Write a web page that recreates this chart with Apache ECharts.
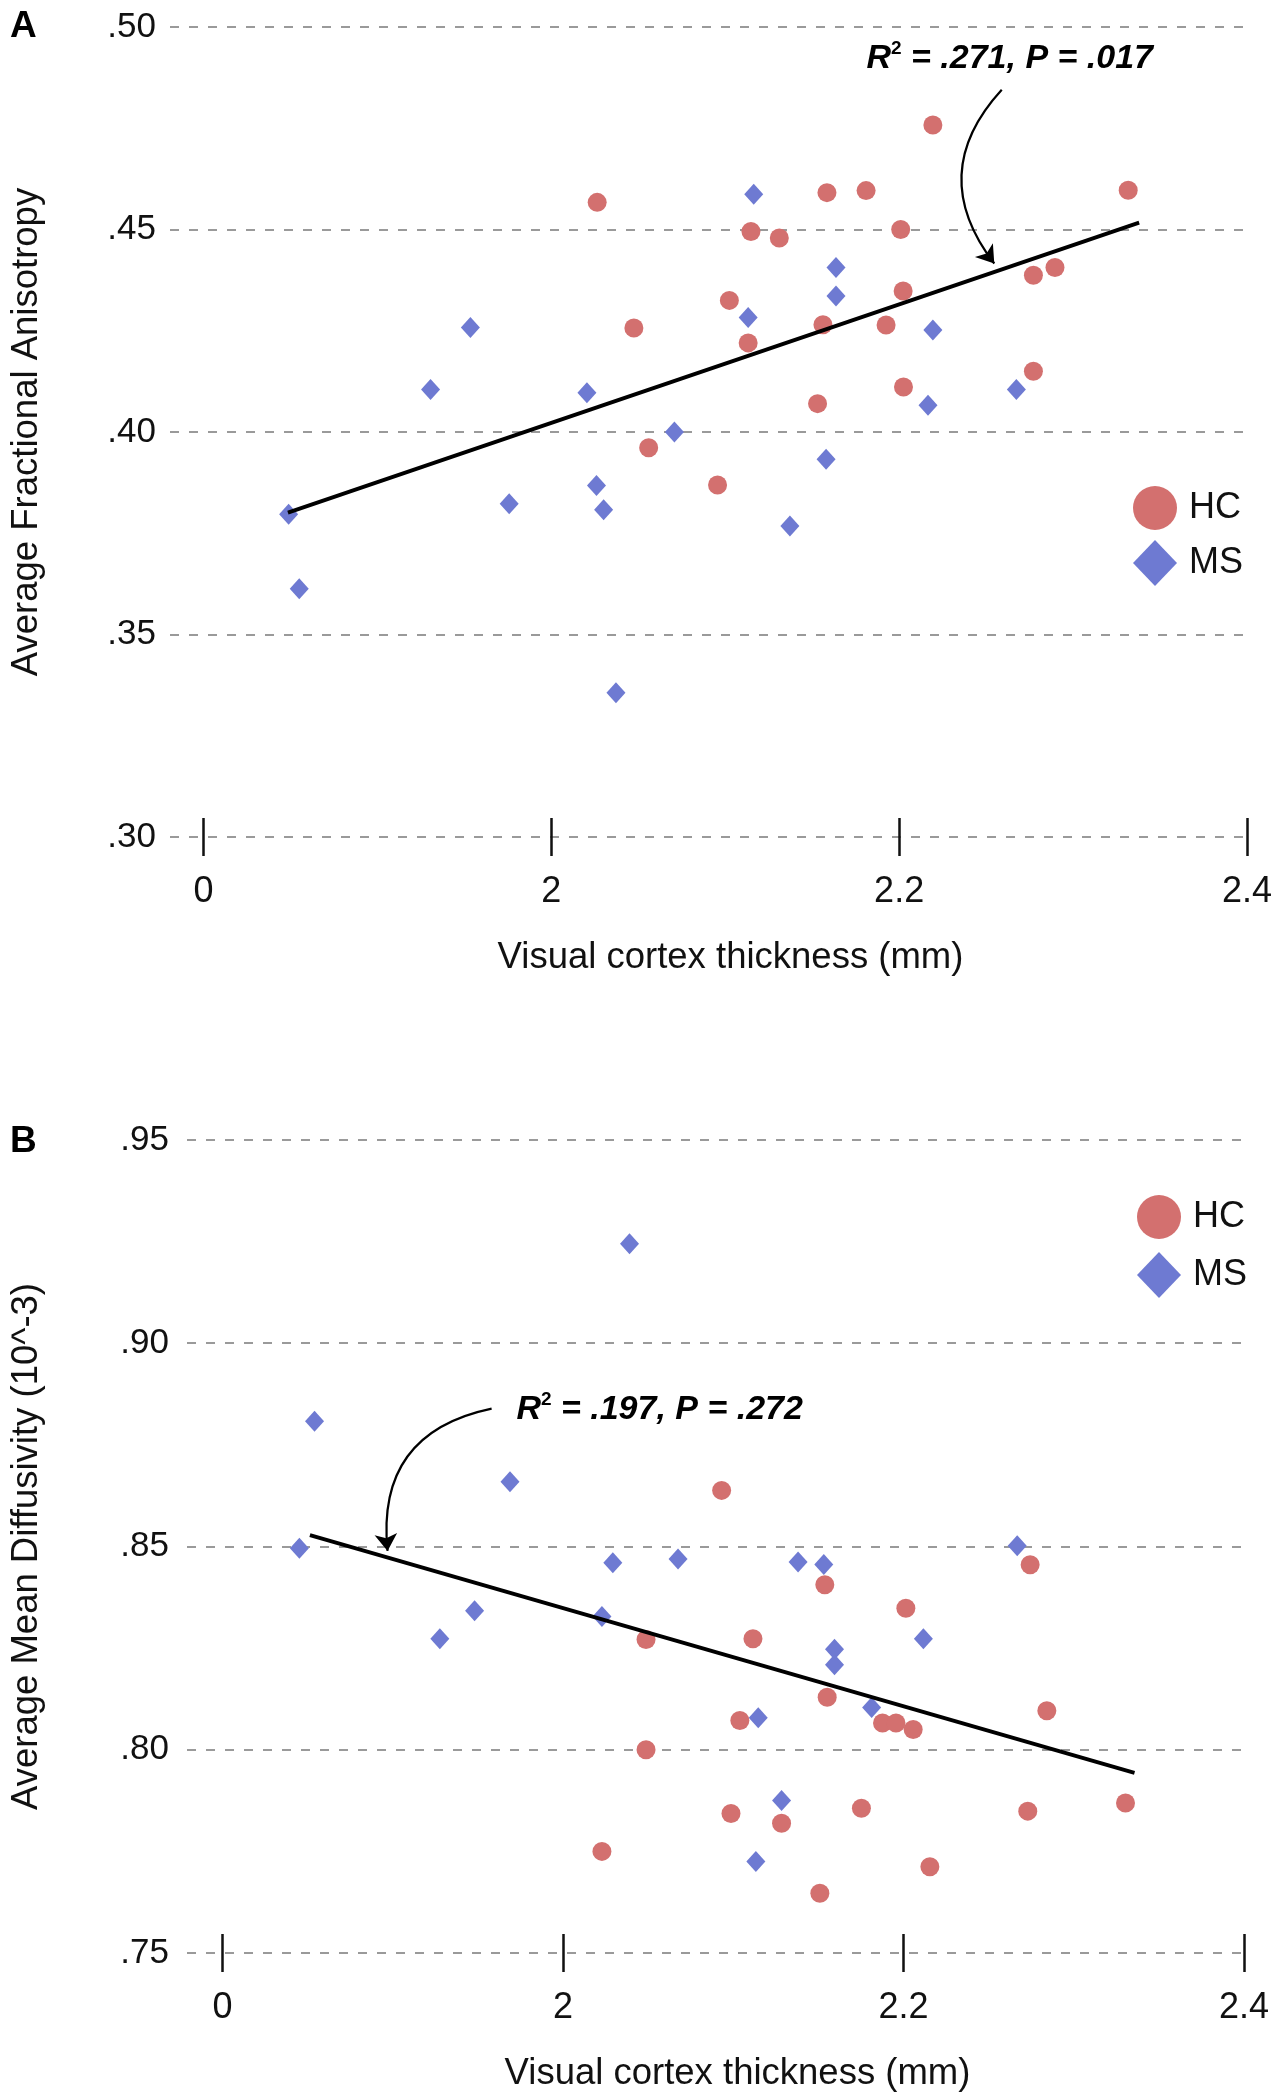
<!DOCTYPE html>
<html>
<head>
<meta charset="utf-8">
<script src="https://cdn.jsdelivr.net/npm/echarts@6/dist/echarts.min.js"></script>
<style>
html,body{margin:0;padding:0;background:#fff;}
#chart{width:1279px;height:2100px;}
</style>
</head>
<body>
<div id="chart"></div>
<script>
// ---------- data ----------
var xTickValues = [1.8, 2.0, 2.2, 2.4];
var xTickLabels = ['0', '2', '2.2', '2.4'];
var yTickValuesA = [0.30, 0.35, 0.40, 0.45, 0.50];
var yTickLabelsA = ['.30', '.35', '.40', '.45', '.50'];
var yTickValuesB = [0.75, 0.80, 0.85, 0.90, 0.95];
var yTickLabelsB = ['.75', '.80', '.85', '.90', '.95'];

// Panel A: Average Fractional Anisotropy
var hcA_x = [2.2194, 2.1585, 2.1810, 2.3317, 2.1148, 2.1311, 2.2009, 2.1024, 2.2023, 2.2772, 2.2896, 2.1562, 2.1925, 2.1132, 2.2772, 2.2025, 2.1531, 2.0560, 2.0264, 2.0475, 2.0956];
var hcA_y = [0.4758, 0.4591, 0.4596, 0.4597, 0.4495, 0.4479, 0.4500, 0.4325, 0.4348, 0.4387, 0.4406, 0.4265, 0.4264, 0.4220, 0.4150, 0.4111, 0.4070, 0.3961, 0.4567, 0.4257, 0.3869];
var msA_x = [2.1164, 2.1637, 2.1637, 2.1132, 2.2194, 2.2674, 2.2166, 2.0708, 1.9535, 1.9306, 2.0205, 2.1580, 2.1372, 1.8490, 1.9758, 2.0260, 2.0301, 1.8551, 2.0372];
var msA_y = [0.4587, 0.4406, 0.4336, 0.4283, 0.4252, 0.4105, 0.4066, 0.4000, 0.4258, 0.4105, 0.4097, 0.3933, 0.3768, 0.3797, 0.3823, 0.3868, 0.3808, 0.3613, 0.3356];
var fitA_x = [1.8486, 2.3380];
var fitA_y = [0.3801, 0.4517];
var statA_r2 = '.271', statA_p = '.017';
var annotA_pos = [2.2636, 0.4923];
var arrowA = [[2.2590, 0.4845], [2.2547, 0.4416]];

// Panel B: Average Mean Diffusivity
var hcB_x = [2.0932, 2.2744, 2.1538, 2.2014, 2.0488, 2.1116, 2.1552, 2.1039, 2.1877, 2.1956, 2.2057, 2.2842, 2.0488, 2.0987, 2.1284, 2.1753, 2.2730, 2.3304, 2.2155, 2.1509, 2.0229];
var hcB_y = [0.8638, 0.8455, 0.8406, 0.8348, 0.8271, 0.8273, 0.8129, 0.8072, 0.8066, 0.8066, 0.8050, 0.8096, 0.8000, 0.7843, 0.7819, 0.7856, 0.7849, 0.7869, 0.7712, 0.7647, 0.7750];
var msB_x = [2.0391, 1.8541, 1.9689, 1.8452, 2.0293, 2.0676, 2.1381, 2.1532, 2.2668, 1.9481, 2.0229, 1.9277, 2.2117, 2.1595, 2.1595, 2.1813, 2.1147, 2.1284, 2.1133];
var msB_y = [0.9245, 0.8808, 0.8659, 0.8496, 0.8460, 0.8469, 0.8462, 0.8456, 0.8502, 0.8342, 0.8328, 0.8273, 0.8273, 0.8247, 0.8209, 0.8104, 0.8079, 0.7875, 0.7725];
var fitB_x = [1.8514, 2.3357];
var fitB_y = [0.8528, 0.7943];
var statB_r2 = '.197', statB_p = '.272';
var annotB_pos = [2.0568, 0.8837];
var arrowB = [[1.9581, 0.8839], [1.8970, 0.8489]];

var xName = 'Visual cortex thickness (mm)';
var yNameA = 'Average Fractional Anisotropy';
var yNameB = 'Average Mean Diffusivity (10^-3)';
var groups = ['HC', 'MS'];

// ---------- helpers ----------
function zip(xs, ys) { return xs.map(function (x, i) { return [x, ys[i]]; }); }
function labelFor(values, labels) {
  return function (v) {
    var best = 0, d = Infinity;
    values.forEach(function (t, i) { var e = Math.abs(t - v); if (e < d) { d = e; best = i; } });
    return d < 1e-6 ? labels[best] : '';
  };
}

var FONT = '"Liberation Sans", Arial, Helvetica, sans-serif';
var RED = '#D3706F', BLUE = '#6E7AD2';
var GRID_COLOR = '#9a9a9a';

function xAxes(gridIndex, min) {
  var base = {
    type: 'value', gridIndex: gridIndex, min: min, max: 2.4, position: 'bottom',
    axisLine: { show: false }, splitLine: { show: false }
  };
  var main = Object.assign({}, base, {
    name: xName, nameLocation: 'middle', nameGap: 102,
    nameTextStyle: { fontFamily: FONT, fontSize: 36.5, color: '#111', padding: [0, 0, 0, 44] },
    axisTick: { show: true, inside: false, length: 19, customValues: xTickValues, lineStyle: { color: '#111', width: 2.5 } },
    axisLabel: { show: true, customValues: xTickValues, margin: 37, fontFamily: FONT, fontSize: 36, color: '#111',
      formatter: labelFor(xTickValues, xTickLabels) }
  });
  var inner = Object.assign({}, base, {
    axisTick: { show: true, inside: true, length: 19, customValues: xTickValues, lineStyle: { color: '#111', width: 2.5 } },
    axisLabel: { show: false }
  });
  return [main, inner];
}

function yAxis(gridIndex, min, max, vals, labs, name, margin, nameGap) {
  return {
    type: 'value', gridIndex: gridIndex, min: min, max: max, interval: 0.05,
    axisLine: { show: false }, axisTick: { show: false },
    axisLabel: { margin: margin, fontFamily: FONT, fontSize: 35, color: '#111', formatter: labelFor(vals, labs) },
    splitLine: { show: true, lineStyle: { color: GRID_COLOR, width: 1.8, type: [9, 10] } },
    name: name, nameLocation: 'middle', nameGap: nameGap,
    nameTextStyle: { fontFamily: FONT, fontSize: 36.5, color: '#111' }
  };
}

function scatter(name, xi, yi, data, symbol, size, color) {
  return {
    type: 'scatter', name: name, xAxisIndex: xi, yAxisIndex: yi, data: data,
    symbol: symbol, symbolSize: size, itemStyle: { color: color, opacity: 1 }, z: 3, silent: true
  };
}
function fitLine(xi, yi, xs, ys) {
  return {
    type: 'line', xAxisIndex: xi, yAxisIndex: yi, data: zip(xs, ys), showSymbol: false, symbol: 'none',
    lineStyle: { color: '#000', width: 3.8 }, z: 4, silent: true
  };
}
function arrowLine(xi, yi, coords, curv) {
  return {
    type: 'lines', coordinateSystem: 'cartesian2d', xAxisIndex: xi, yAxisIndex: yi,
    data: [{ coords: coords }], symbol: ['none', 'arrow'], symbolSize: 17,
    lineStyle: { color: '#000', width: 2.2, curveness: curv, opacity: 1 }, z: 5, silent: true
  };
}

var legendText = { fontFamily: FONT, fontSize: 36, color: '#111', padding: [0, 0, 0, 7] };

var option = {
  backgroundColor: '#fff',
  animation: false,
  grid: [
    { left: 169, right: 32, top: 27, height: 810 },
    { left: 186, right: 35, top: 1140, height: 813 }
  ],
  xAxis: xAxes(0, 1.7808).concat(xAxes(1, 1.7792)),
  yAxis: [
    yAxis(0, 0.30, 0.50, yTickValuesA, yTickLabelsA, yNameA, 14, 125),
    yAxis(1, 0.75, 0.95, yTickValuesB, yTickLabelsB, yNameB, 18, 142)
  ],
  legend: [
    { left: 1128, top: 481, orient: 'vertical', itemWidth: 44, itemHeight: 46, itemGap: 10, selectedMode: false,
      textStyle: legendText,
      data: [{ name: groups[0], icon: 'circle' }, { name: groups[1], icon: 'diamond' }] },
    { left: 1132, top: 1190, orient: 'vertical', itemWidth: 44, itemHeight: 46, itemGap: 13, selectedMode: false,
      textStyle: legendText,
      data: [{ name: groups[0], icon: 'circle' }, { name: groups[1], icon: 'diamond' }] }
  ],
  series: [
    scatter(groups[0], 0, 0, zip(hcA_x, hcA_y), 'circle', 19, RED),
    scatter(groups[1], 0, 0, zip(msA_x, msA_y), 'diamond', [19, 21], BLUE),
    fitLine(0, 0, fitA_x, fitA_y),
    arrowLine(0, 0, arrowA, -0.42),
    scatter(groups[0], 2, 1, zip(hcB_x, hcB_y), 'circle', 19, RED),
    scatter(groups[1], 2, 1, zip(msB_x, msB_y), 'diamond', [19, 21], BLUE),
    fitLine(2, 1, fitB_x, fitB_y),
    arrowLine(2, 1, arrowB, -0.45)
  ]
};

var chart = echarts.init(document.getElementById('chart'), null, { renderer: 'canvas' });
chart.setOption(option);

function statText(pos, r2, p, xi, yi) {
  var px = chart.convertToPixel({ xAxisIndex: xi, yAxisIndex: yi }, pos);
  return {
    type: 'text', x: px[0], y: px[1], z: 10,
    style: {
      text: '{b|R}{s|2}{b| = ' + r2 + ', P = ' + p + '}',
      align: 'center', verticalAlign: 'middle',
      rich: {
        b: { fontFamily: FONT, fontSize: 34, fontWeight: 'bold', fontStyle: 'italic', fill: '#000', lineHeight: 38 },
        s: { fontFamily: FONT, fontSize: 19, fontWeight: 'bold', fill: '#000', lineHeight: 22, verticalAlign: 'top' }
      }
    }
  };
}

chart.setOption({
  graphic: [
    { type: 'text', x: 10, y: 27, style: { text: 'A', fontFamily: FONT, fontSize: 37, fontWeight: 'bold', fill: '#000', verticalAlign: 'middle' } },
    { type: 'text', x: 10, y: 1142, style: { text: 'B', fontFamily: FONT, fontSize: 37, fontWeight: 'bold', fill: '#000', verticalAlign: 'middle' } },
    statText(annotA_pos, statA_r2, statA_p, 0, 0),
    statText(annotB_pos, statB_r2, statB_p, 2, 1)
  ]
});
</script>
</body>
</html>
